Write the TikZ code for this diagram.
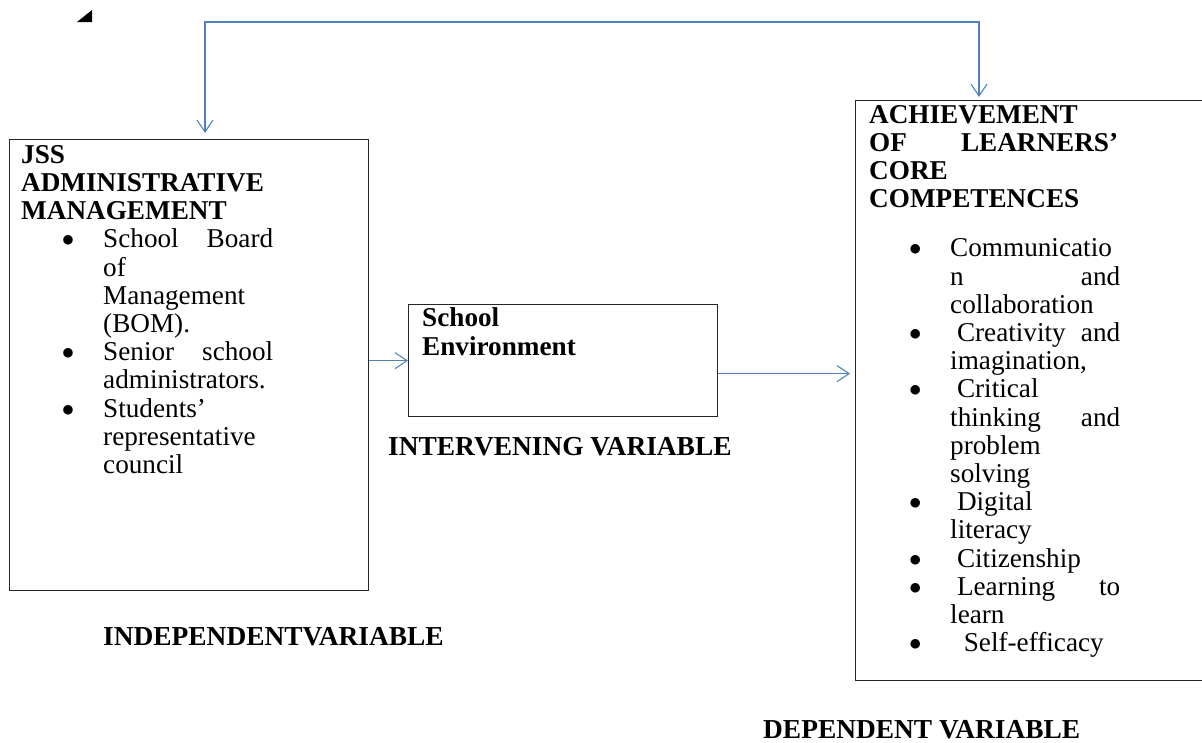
\documentclass[tikz,border=0pt]{standalone}
\usepackage{fontspec}
\setmainfont{Liberation Serif}
\newfontfamily\dejavu{DejaVu Sans}
\usetikzlibrary{arrows.meta,calc}
\definecolor{linkblue}{RGB}{79,129,189}
\newcommand\Bul{\raisebox{4pt}{\dejavu\fontsize{12.5}{12.5}\selectfont ●}}
\newcommand\Ib[1]{\hbox{\strut\bfseries #1}}
\newcommand\It[1]{\hbox{\strut\hskip47pt\makebox[0pt]{\Bul}\hskip35pt\hbox to 170pt{#1}}}
\newcommand\Ic[1]{\hbox{\strut\hskip82pt\hbox to 170pt{#1}}}
\tikzset{barb/.tip={Straight Barb[length=12pt,width=16pt]}}
\begin{document}
\begin{tikzpicture}[x=1pt,y=-1pt,
  box/.style={draw=black!85,line width=1.3pt,inner sep=0pt,anchor=north west},
  txt/.style={inner sep=0pt,anchor=north west,font=\fontsize{27.2}{28.2}\selectfont},
  lbl/.style={inner sep=0pt,anchor=base west,font=\fontsize{27.4}{28.2}\selectfont\bfseries},
  flow/.style={draw=linkblue,line width=1.1pt}]
\useasboundingbox (0,0) rectangle (1202,742);
\clip (0,0) rectangle (1202,742);
% boxes
\node[box,minimum width=359pt,minimum height=451pt] (indep) at (9,139) {};
\node[box,minimum width=309pt,minimum height=112pt] (mid) at (408,304) {};
\node[box,minimum width=360pt,minimum height=580pt] (dep) at (855,100) {};
% texts
\node[txt] (indeptext) at (21,143.26) {\vbox{\Ib{JSS}\Ib{ADMINISTRATIVE}\Ib{MANAGEMENT}%
  \It{School\hfill Board}\Ic{of\hfill}\Ic{Management\hfill}\Ic{(BOM).\hfill}%
  \It{Senior\hfill school}\Ic{administrators.\hfill}%
  \It{Students’\hfill}\Ic{representative\hfill}\Ic{council\hfill}}};
\node[txt] (midtext) at (422,306.96) {\vbox{\Ib{School}\Ib{Environment}}};
\node[txt] (deptitle) at (869,103.26) {\vbox{\Ib{ACHIEVEMENT}\hbox to 249pt{\strut\bfseries OF\hfill LEARNERS’}\Ib{CORE}\Ib{COMPETENCES}}};
\node[txt] (deplist) at (868,236.96) {\vbox{\It{Communicatio\hfill}\Ic{n\hfill and}\Ic{collaboration\hfill}%
  \It{\ Creativity\hfill and}\Ic{imagination,\hfill}%
  \It{\ Critical\hfill}\Ic{thinking\hfill and}\Ic{problem\hfill}\Ic{solving\hfill}%
  \It{\ Digital\hfill}\Ic{literacy\hfill}%
  \It{\ Citizenship\hfill}%
  \It{\ Learning\hfill to}\Ic{learn\hfill}%
  \It{\ \ Self-efficacy\hfill}}};
% labels
\node[lbl] (ivar) at (388,455) {INTERVENING VARIABLE};
\node[lbl] (indvar) at (103,645) {INDEPENDENTVARIABLE};
\node[lbl] (dvar) at (763,738.5) {DEPENDENT VARIABLE};
% mark
\fill (77,22) -- (92,22) -- (92,10) -- cycle;
% connectors
\draw[flow,barb-barb] ([shift={(196,-6)}]indep.north west) -- ++(0,-111) -| ([shift={(124,-3)}]dep.north west);
\draw[flow,-barb] (mid.west -| indep.east) -- (mid.west);
\coordinate (m2) at ([shift={(0,13)}]mid.east);
\draw[flow,-barb] (m2) -- ($(m2 -| dep.west)+(-5,0)$);
\end{tikzpicture}
\end{document}
